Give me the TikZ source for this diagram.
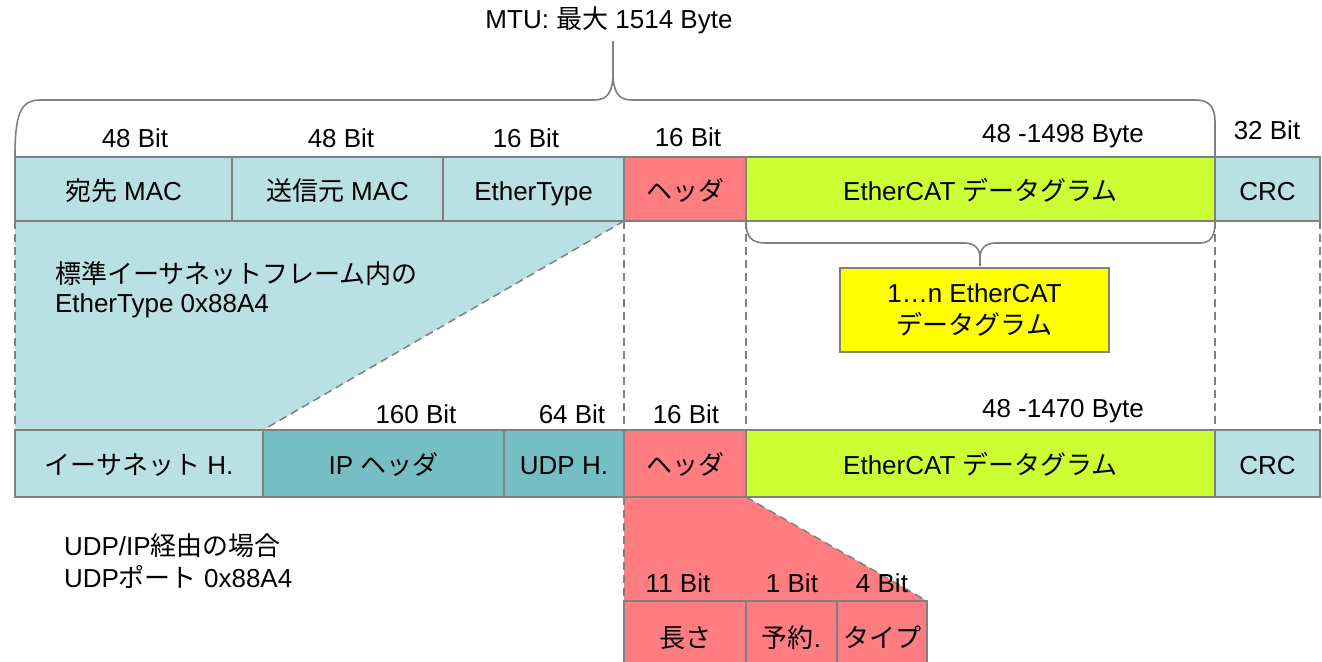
\documentclass[tikz,border=0pt]{standalone}
\usepackage{fontspec}
\usetikzlibrary{backgrounds}
\setmainfont{Liberation Sans}
\newfontfamily\jpfont{Noto Sans CJK JP}
\newcommand\jp[1]{{\jpfont #1}}
\definecolor{ethblue}{HTML}{B9E0E3}
\definecolor{ipteal}{HTML}{74BEC4}
\definecolor{hdrred}{HTML}{FF7C80}
\definecolor{dglime}{HTML}{CCFF33}
\definecolor{dgyellow}{HTML}{FFFF00}
\definecolor{frame}{HTML}{808080}
\begin{document}
\begin{tikzpicture}[x=0.5pt,y=-0.5pt,
  every node/.style={font=\fontsize{13}{15}\selectfont, inner sep=0pt, outer sep=0pt},
  cell/.style={draw=frame, line width=1pt, anchor=north west,
    text height=11pt, text depth=0pt},
  rowA/.style={cell, minimum height=32pt},
  rowB/.style={cell, minimum height=33.5pt},
  rowC/.style={cell, minimum height=35pt},
  bits/.style={anchor=base},
  dashline/.style={draw=frame, line width=0.75pt, dash pattern=on 4pt off 2.5pt},
  brace/.style={draw=frame, line width=0.8pt}]
\useasboundingbox (0,0) rectangle (1322,661);

% Ethernet frame
\node[rowA, fill=ethblue, minimum width=108.5pt] (dst)   at (15,157)   {\jp{宛先} MAC};
\node[rowA, fill=ethblue, minimum width=105.5pt] (src)   at (232,157)  {\jp{送信元} MAC};
\node[rowA, fill=ethblue, minimum width=90.5pt]  (etype) at (443,157)  {EtherType};
\node[rowA, fill=hdrred,  minimum width=61pt]    (hdr1)  at (624,157)  {\jp{ヘッダ}};
\node[rowA, fill=dglime,  minimum width=234.5pt] (dg1)   at (746,157)  {EtherCAT \jp{データグラム}};
\node[rowA, fill=ethblue, minimum width=52.5pt]  (crc1)  at (1215,157) {CRC};

% UDP/IP frame
\node[rowB, fill=ethblue, minimum width=124pt]   (eth)   at (15,430)   {\jp{イーサネット} H.};
\node[rowB, fill=ipteal,  minimum width=120.5pt] (ip)    at (263,430)  {IP \jp{ヘッダ}};
\node[rowB, fill=ipteal,  minimum width=60pt]    (udp)   at (504,430)  {UDP H.};
\node[rowB, fill=hdrred,  minimum width=61pt]    (hdr2)  at (624,430)  {\jp{ヘッダ}};
\node[rowB, fill=dglime,  minimum width=234.5pt] (dg2)   at (746,430)  {EtherCAT \jp{データグラム}};
\node[rowB, fill=ethblue, minimum width=52.5pt]  (crc2)  at (1215,430) {CRC};

% header fields
\node[rowC, fill=hdrred, minimum width=61pt]   (len) at (624,601) {\jp{長さ}};
\node[rowC, fill=hdrred, minimum width=45.5pt] (rsv) at (746,601) {\jp{予約}.};
\node[rowC, fill=hdrred, minimum width=45pt]   (typ) at (837,601) {\jp{タイプ}};

% expansion wedges
\begin{scope}[on background layer]
\fill[ethblue] (dst.south west) -- (etype.south east) -- (ip.north west) -- (eth.north west) -- cycle;
\fill[hdrred] (hdr2.south west) -- (hdr2.south east) -- (typ.north east) -- (len.north west) -- cycle;
\end{scope}

% guide lines
\draw[dashline] (dst.south west) -- (eth.north west);
\draw[dashline] (etype.south east) -- (ip.north west);
\draw[dashline] (hdr1.south west) -- (hdr2.north west);
\draw[dashline] (dg1.south west) -- (dg2.north west);
\draw[dashline] (dg1.south east) -- (dg2.north east);
\draw[dashline] (crc1.south east) -- (crc2.north east);
\draw[dashline] (hdr2.south west) -- (len.north west);
\draw[dashline] (hdr2.south east) -- (typ.north east);

% MTU brace
\coordinate (mtutip) at (613,41);
\draw[brace] (dst.north west) .. controls (15,115) and (20,100) .. (40,100)
  -- (594,100) .. controls (608,100) and (613,92) .. (613,72) -- (mtutip)
  (613,72) .. controls (613,92) and (618,100) .. (632,100)
  -- (1196,100) .. controls (1210,100) and (1215,108) .. (1215,122) -- (dg1.north east);
\node[anchor=base] (mtu) at (609,28) {MTU: \jp{最大} 1514 Byte};

% datagram brace
\coordinate (dgtip) at (980,266);
\draw[brace] (dg1.south west) .. controls (746,237) and (751,243) .. (766,243)
  -- (964,243) .. controls (975,243) and (980,249) .. (980,258) -- (dgtip)
  (980,258) .. controls (980,249) and (985,243) .. (996,243)
  -- (1200,243) .. controls (1211,243) and (1215,236) .. (dg1.south east);
\node[draw=frame, line width=1pt, fill=dgyellow, minimum width=134.5pt, minimum height=42pt,
  align=center, font=\fontsize{13}{16}\selectfont] (dgs) at (974.5,310)
  {1…n EtherCAT\\\jp{データグラム}};

% field sizes
\node[bits] (b1) at (135,147) {48 Bit};
\node[bits] (b2) at (341,147) {48 Bit};
\node[bits] (b3) at (526,147) {16 Bit};
\node[bits] (b4) at (688,146) {16 Bit};
\node[bits] (b5) at (1063,142) {48 -1498 Byte};
\node[bits] (b6) at (1267,139) {32 Bit};

\node[bits] (c1) at (416,423) {160 Bit};
\node[bits] (c2) at (572,423) {64 Bit};
\node[bits] (c3) at (686,423) {16 Bit};
\node[bits] (c4) at (1063,417) {48 -1470 Byte};

\node[bits] (d1) at (678,592) {11 Bit};
\node[bits] (d2) at (792,592) {1 Bit};
\node[bits] (d3) at (882,592) {4 Bit};

% notes
\node[anchor=base west, align=left, font=\fontsize{13}{14.5}\selectfont] (note1) at (55,312)
  {\jp{標準イーサネットフレーム内の}\\EtherType 0x88A4};
\node[anchor=base west, align=left, font=\fontsize{13}{16}\selectfont] (note2) at (64,587)
  {UDP/IP\jp{経由の場合}\\UDP\jp{ポート} 0x88A4};
\end{tikzpicture}
\end{document}
